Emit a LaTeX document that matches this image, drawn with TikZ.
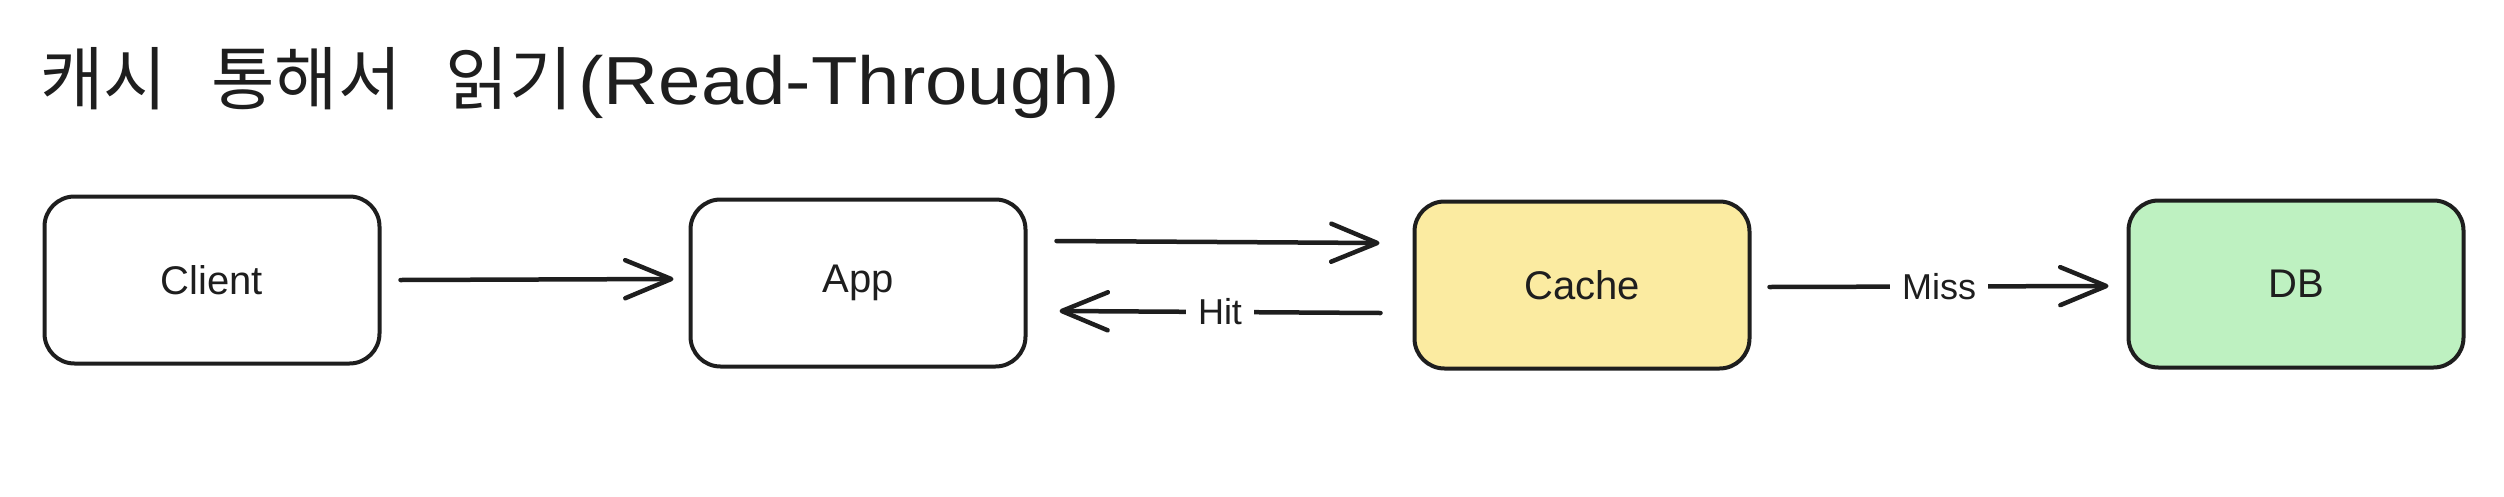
\documentclass[tikz,border=0pt]{standalone}
\usepackage{fontspec}
\setmainfont{Liberation Sans}
\newfontfamily\krfont{Noto Sans CJK KR}
\newfontfamily\titlelatin[FakeStretch=1.12]{Liberation Sans}
\usetikzlibrary{arrows.meta}
\definecolor{ink}{HTML}{1E1E1E}
\definecolor{cachefill}{HTML}{FBEBA1}
\definecolor{dbfill}{HTML}{BEF1C1}
\tikzset{
  box/.style={draw=ink, line width=4pt, rounded corners=30pt, minimum width=335pt,
    minimum height=167pt, text=ink, font=\fontsize{40}{48}\selectfont, inner sep=0pt},
  arr/.style={draw=ink, line width=4.5pt, line cap=round, line join=round,
    -{Straight Barb[length=46pt,width=38pt,line cap=round,line join=round]}},
  elabel/.style={fill=white, text=ink, inner xsep=12pt, inner ysep=4pt,
    font=\fontsize{36}{42}\selectfont}
}
\begin{document}
\begin{tikzpicture}[x=1pt,y=-1pt]
\useasboundingbox (0,0) rectangle (2504,496);
\node[anchor=base west, inner sep=0pt, text=ink] (title) at (40,104)
  {{\krfont\fontsize{69}{76}\selectfont 캐시\hspace{44pt}통해서\hspace{44pt}읽기}\hspace{6pt}{\titlelatin\fontsize{68}{76}\selectfont (Read-Through)}};
\node[box] (client) at (212,280) {Client};
\node[box] (app) at (858,283) {App};
\node[box, fill=cachefill] (cache) at (1582,285) {Cache};
\node[box, fill=dbfill] (db) at (2296,284) {DB};
\draw[arr] ([shift={(19,0)}]client.east) -- ([shift={(-15,-4)}]app.west);
\draw[arr] ([shift={(29,-42)}]app.east) -- ([shift={(-33,-42)}]cache.west);
\draw[arr] ([shift={(-32,28)}]cache.west) -- node[elabel]{Hit} ([shift={(32,28)}]app.east);
\draw[arr] ([shift={(18,2)}]cache.east) -- node[elabel]{Miss} ([shift={(-18,2)}]db.west);
\end{tikzpicture}
\end{document}
